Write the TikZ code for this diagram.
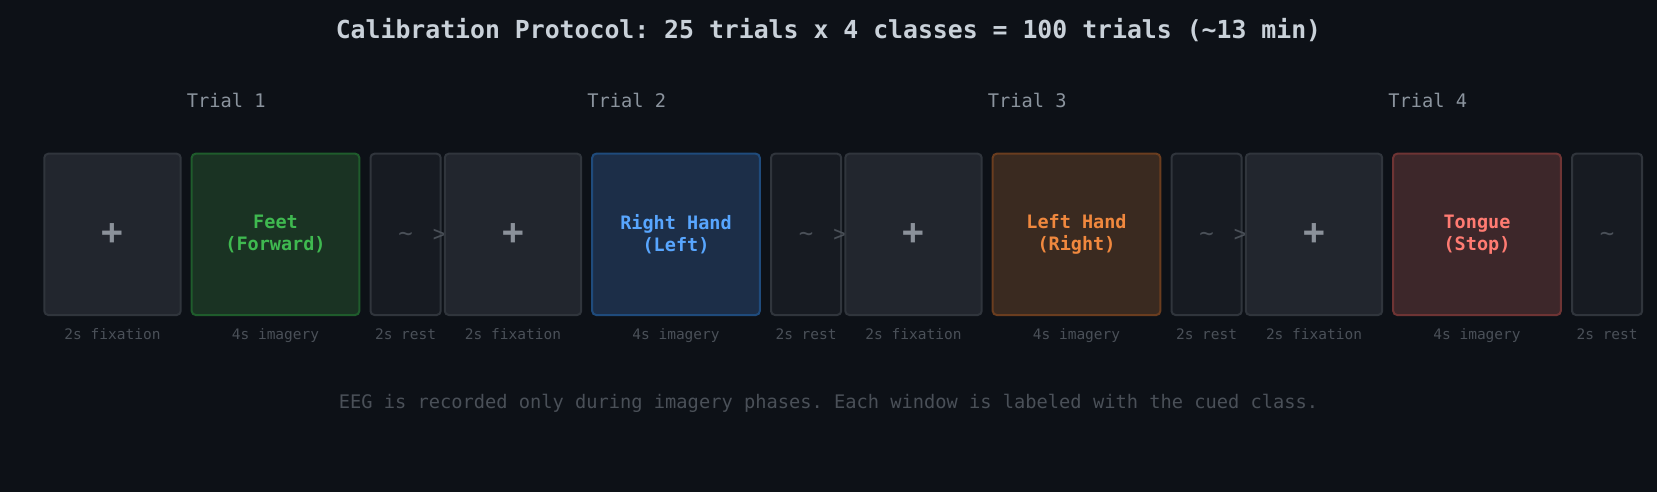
\documentclass[tikz,border=0pt]{standalone}
\usepackage{fontspec}
\setmainfont{DejaVu Sans Mono}
\frenchspacing
\definecolor{bg}{HTML}{0D1117}
\definecolor{fixfill}{HTML}{22262E}
\definecolor{restfill}{HTML}{171B22}
\definecolor{boxline}{HTML}{30353C}
\definecolor{titlec}{HTML}{C9D1D9}
\definecolor{trialc}{HTML}{8B949E}
\definecolor{lblc}{HTML}{4A5058}
\definecolor{plusc}{HTML}{8B919A}
\definecolor{grfill}{HTML}{1A3323}
\definecolor{grline}{HTML}{1F5C2C}
\definecolor{grtext}{HTML}{3FB950}
\definecolor{blfill}{HTML}{1C2E48}
\definecolor{blline}{HTML}{1F4B7C}
\definecolor{bltext}{HTML}{58A6FF}
\definecolor{orfill}{HTML}{3A2A20}
\definecolor{orline}{HTML}{6A3D1F}
\definecolor{ortext}{HTML}{F0883E}
\definecolor{rdfill}{HTML}{3D272A}
\definecolor{rdline}{HTML}{6E3434}
\definecolor{rdtext}{HTML}{FF7B72}
\tikzset{
  phasebox/.style={rectangle, rounded corners=4pt, line width=2pt, anchor=north west,
    minimum height=161.3pt, inner sep=0pt, align=center},
  fixbox/.style={phasebox, draw=boxline, fill=fixfill, minimum width=136.4pt,
    text=plusc, font=\fontsize{36}{36}\selectfont\bfseries},
  restbox/.style={phasebox, draw=boxline, fill=restfill, minimum width=70.2pt,
    text=lblc, font=\fontsize{24}{24}\selectfont},
  imgbox/.style={phasebox, minimum width=167.6pt,
    font=\fontsize{18.5}{22}\selectfont\bfseries},
  arrowglyph/.style={text=lblc, font=\fontsize{22}{22}\selectfont, inner sep=0pt},
  phaselbl/.style={text=lblc, font=\fontsize{14.5}{16}\selectfont, inner sep=0pt, anchor=base},
  triallbl/.style={text=trialc, font=\fontsize{18.7}{20}\selectfont, inner sep=0pt},
}
\begin{document}
\begin{tikzpicture}[x=1pt,y=-1pt]
\fill[bg] (0,0) rectangle (1657,492);
\useasboundingbox (0,0) rectangle (1657,492);
\node[text=titlec, font=\fontsize{24.8}{28}\selectfont\bfseries, inner sep=0pt, anchor=base] (title) at (828.5,38.3)
  {Calibration Protocol: 25 trials x 4 classes = 100 trials (\char`\~13 min)};
\foreach \i/\n/\txt/\cl in {0/1/{Feet\\(Forward)}/gr, 1/2/{Right Hand\\(Left)}/bl,
                           2/3/{Left Hand\\(Right)}/or, 3/4/{Tongue\\(Stop)}/rd}{
  \pgfmathsetmacro{\xo}{43.3+\i*400.5}
  \node[triallbl] (trial\n) at (226.2+\i*400.5,100.4) {Trial \n};
  \node[fixbox] (fix\n) at (\xo,152.7) {+};
  \node[imgbox, draw=\cl line, fill=\cl fill, text=\cl text] (img\n) at (\xo+147.4,152.7) {\txt};
  \node[restbox] (rest\n) at (\xo+326.2,152.7) {\raisebox{-3pt}[\height][\depth]{\char`\~}};
  \ifnum\n<4
    \node[arrowglyph, anchor=east] (arr\n) at ([xshift=4.5pt,yshift=-1.5pt]rest\n.east) {>};
  \fi
  \node[phaselbl] (lfix\n) at (\xo+69.2,339) {2s fixation};
  \node[phaselbl] (limg\n) at (\xo+232.2,339) {4s imagery};
  \node[phaselbl] (lrest\n) at (\xo+362.3,339) {2s rest};
}
\node[text=lblc, font=\fontsize{18.7}{20}\selectfont, inner sep=0pt, anchor=base] (note) at (828.5,408)
  {EEG is recorded only during imagery phases. Each window is labeled with the cued class.};
\end{tikzpicture}
\end{document}
